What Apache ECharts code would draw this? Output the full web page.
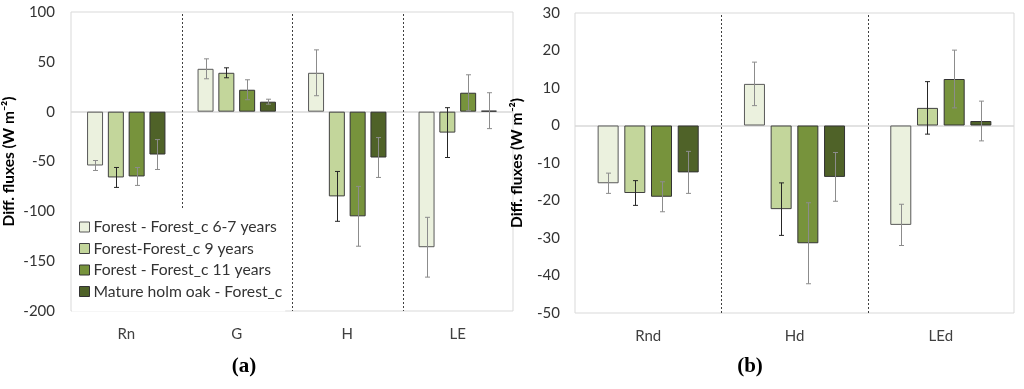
<!DOCTYPE html>
<html>
<head>
<meta charset="utf-8">
<script src="https://cdn.jsdelivr.net/npm/echarts@6/dist/echarts.min.js"></script>
<style>html,body{margin:0;padding:0;background:#fff}#c{width:1024px;height:389px}</style>
</head>
<body>
<div id="c"></div>
<script>
// ---- data ----
const seriesNames = ['Forest - Forest_c 6-7 years', 'Forest-Forest_c 9 years', 'Forest - Forest_c 11 years', 'Mature holm oak - Forest_c'];
const catsA = ['Rn', 'G', 'H', 'LE'];
const valsA1 = [-54, 43, 39, -136];
const valsA2 = [-66, 39, -85, -21];
const valsA3 = [-65, 22, -105, 19];
const valsA4 = [-43, 10, -46, 1];
const errA1 = [5, 10, 23, 30];
const errA2 = [10, 5, 25, 25];
const errA3 = [9, 10, 30, 18];
const errA4 = [15, 2.5, 20, 18];
const catsB = ['Rnd', 'Hd', 'LEd'];
const valsB1 = [-15.4, 11.1, -26.5];
const valsB2 = [-18, -22.3, 4.7];
const valsB3 = [-19, -31.4, 12.4];
const valsB4 = [-12.5, -13.7, 1.2];
const errB1 = [2.7, 5.8, 5.5];
const errB2 = [3.3, 7, 7];
const errB3 = [4, 10.8, 7.7];
const errB4 = [5.6, 6.5, 5.3];
const ticksA = {min: -200, max: 100, interval: 50};
const ticksB = {min: -50, max: 30, interval: 10};
const yName = 'Diff. fluxes (W m\u207B\u00B2)';

// ---- style ----
const fills = ['#ebf1de', '#c3d69b', '#77933c', '#4f6228'];
const borders = ['#595959', '#404040', '#333333', '#333333'];
const errColors = ['#8c8c8c', '#262626', '#8c8c8c', '#8c8c8c'];
const FONT = 'Lato';

const chart = echarts.init(document.getElementById('c'), null, {renderer: 'canvas'});

const valsA = [valsA1, valsA2, valsA3, valsA4];
const errA = [errA1, errA2, errA3, errA4];
const valsB = [valsB1, valsB2, valsB3, valsB4];
const errB = [errB1, errB2, errB3, errB4];

const layoutA = {barWidth: 16, gapPx: 4.8};
const layoutB = {barWidth: 21, gapPx: 5.7};

function barSeries(gi, vals, layout) {
  return vals.map((v, k) => {
    const s = {
      name: seriesNames[k], type: 'bar', xAxisIndex: gi, yAxisIndex: gi,
      data: v, barWidth: layout.barWidth,
      barGap: (layout.gapPx / layout.barWidth * 100).toFixed(1) + '%',
      itemStyle: {color: fills[k], borderColor: borders[k], borderWidth: 1},
      z: 2, silent: true
    };
    if (k === 0) {
      s.markLine = {silent: true, symbol: 'none', label: {show: false},
        lineStyle: {color: '#d9d9d9', type: 'solid', width: 1.5},
        data: [{yAxis: 0}], z: 1};
    }
    return s;
  });
}

function errSeries(gi, vals, errs, layout) {
  const data = [];
  vals.forEach((v, k) => v.forEach((val, i) => data.push([i, val, errs[k][i], k])));
  return {
    type: 'custom', xAxisIndex: gi, yAxisIndex: gi, z: 5, silent: true,
    data: data,
    renderItem: function (params, api) {
      const i = api.value(0), v = api.value(1), e = api.value(2), k = api.value(3);
      const off = (k - 1.5) * (layout.barWidth + layout.gapPx);
      const top = api.coord([i, v + e]);
      const bot = api.coord([i, v - e]);
      const x = Math.round(top[0] + off) + 0.5;
      const cap = 2.5;
      const st = {stroke: errColors[k], lineWidth: 1};
      return {type: 'group', children: [
        {type: 'line', shape: {x1: x, y1: top[1], x2: x, y2: bot[1]}, style: st},
        {type: 'line', shape: {x1: x - cap, y1: top[1], x2: x + cap, y2: top[1]}, style: st},
        {type: 'line', shape: {x1: x - cap, y1: bot[1], x2: x + cap, y2: bot[1]}, style: st}
      ]};
    }
  };
}

function sepSeries(gi, n) {
  const data = [];
  for (let i = 1; i < n; i++) data.push([i]);
  return {
    type: 'custom', xAxisIndex: gi, yAxisIndex: gi, z: 3, silent: true,
    data: data,
    renderItem: function (params, api) {
      const i = api.value(0);
      const cs = params.coordSys;
      const a = api.coord([i - 1, 0])[0], b = api.coord([i, 0])[0];
      const x = Math.round((a + b) / 2) + 0.5;
      return {type: 'line', shape: {x1: x, y1: cs.y + 2, x2: x, y2: cs.y + cs.height},
        style: {stroke: '#404040', lineWidth: 1, lineDash: [2, 2]}};
    }
  };
}

function xAxis(gi, cats) {
  return {type: 'category', gridIndex: gi, data: cats,
    axisLine: {show: false}, axisTick: {show: false},
    axisLabel: {fontFamily: FONT, fontSize: 15, color: '#404040', margin: 16},
    splitLine: {show: false}};
}
function yAxis(gi, t, gap, margin) {
  return {type: 'value', gridIndex: gi, min: t.min, max: t.max, interval: t.interval,
    name: yName, nameLocation: 'middle', nameGap: gap, nameRotate: 90,
    nameTextStyle: {fontFamily: FONT, fontWeight: 'bold', fontSize: 15.5, color: '#000'},
    axisLine: {show: false}, axisTick: {show: false},
    axisLabel: {fontFamily: FONT, fontSize: 15, color: '#333', margin: margin},
    splitLine: {show: false}};
}

const option = {
  animation: false,
  backgroundColor: '#fff',
  title: [
    {text: '(a)', left: 244, top: 356, textAlign: 'center', padding: 0,
      textStyle: {fontFamily: 'Liberation Serif', fontWeight: 'bold', fontSize: 21, color: '#000'}},
    {text: '(b)', left: 750, top: 356, textAlign: 'center', padding: 0,
      textStyle: {fontFamily: 'Liberation Serif', fontWeight: 'bold', fontSize: 21, color: '#000'}}
  ],
  grid: [
    {left: 68, right: 511, top: 12, bottom: 78, show: true, borderColor: '#d9d9d9', borderWidth: 1, backgroundColor: 'transparent'},
    {left: 575, right: 10, top: 13, bottom: 76, show: true, borderColor: '#d9d9d9', borderWidth: 1, backgroundColor: 'transparent'}
  ],
  legend: {
    orient: 'vertical', left: 72, top: 208,
    padding: [11, 3, 12, 7], itemGap: 5.5, itemWidth: 10, itemHeight: 10,
    backgroundColor: '#fff', selectedMode: false, z: 4,
    textStyle: {fontFamily: FONT, fontSize: 15.7, color: '#333', lineHeight: 16, padding: [0, 0, 0, -1]},
    data: seriesNames.map((n, k) => ({name: n, icon: 'rect',
      itemStyle: {color: fills[k], borderColor: borders[k], borderWidth: 1}}))
  },
  xAxis: [xAxis(0, catsA), xAxis(1, catsB)],
  yAxis: [yAxis(0, ticksA, 54, 16), yAxis(1, ticksB, 50, 15)],
  series: [].concat(
    barSeries(0, valsA, layoutA),
    barSeries(1, valsB, layoutB),
    [errSeries(0, valsA, errA, layoutA), errSeries(1, valsB, errB, layoutB),
     sepSeries(0, catsA.length), sepSeries(1, catsB.length)]
  )
};
chart.setOption(option);
</script>
</body>
</html>
